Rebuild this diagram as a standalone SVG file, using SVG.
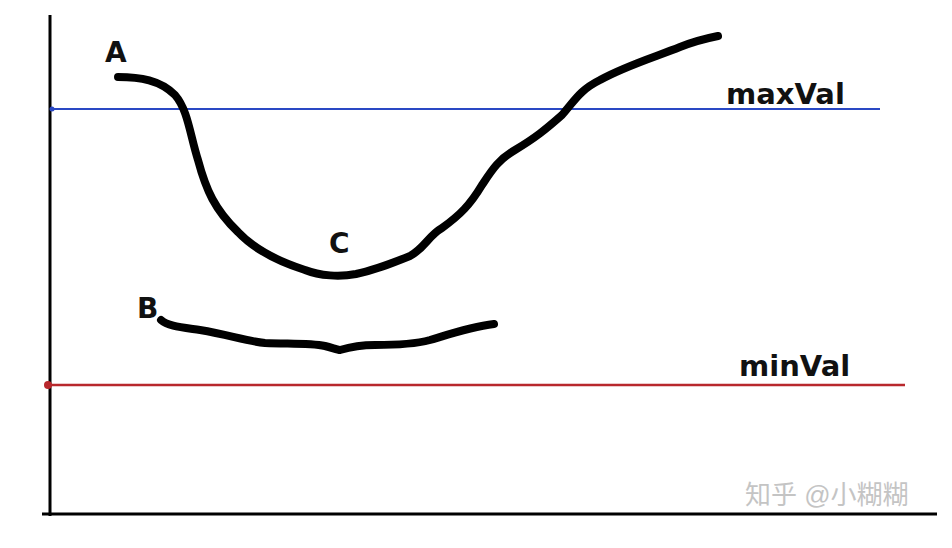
<svg xmlns="http://www.w3.org/2000/svg" width="952" height="548" viewBox="0 0 952 548">
<style>
.curve{fill:none;stroke:#000;stroke-width:8;stroke-linecap:round;stroke-linejoin:round}
.lbl{font-family:"DejaVu Sans","Liberation Sans",sans-serif;fill:#111;font-weight:bold}
.wm{font-family:"Liberation Sans","Noto Sans CJK SC",sans-serif;fill:#c4c4c4;font-size:26px}
</style>
<rect width="952" height="548" fill="#fff"/>
<g id="axes">
<line x1="50" y1="15" x2="50" y2="516" stroke="#000" stroke-width="3"/>
<line x1="42" y1="514" x2="937" y2="514" stroke="#000" stroke-width="3"/>
</g>
<g id="maxVal">
<line x1="50" y1="109" x2="880" y2="109" stroke="#2a48c4" stroke-width="2"/>
<circle cx="52" cy="109" r="2.5" fill="#2a48c4"/>
<text class="lbl" x="726" y="104" font-size="29">maxVal</text>
</g>
<g id="minVal">
<line x1="48" y1="385" x2="905" y2="385" stroke="#b8282c" stroke-width="2.5"/>
<circle cx="48" cy="385" r="4" fill="#b8282c"/>
<text class="lbl" x="739" y="376" font-size="29">minVal</text>
</g>
<g id="curveA">
<path class="curve" d="M118,77 C140,77 160,80 175,95 C188,110 190,135 198,160 C206,190 215,210 238,232 C255,250 280,262 305,270 C320,276 340,277 356,274 C375,270 390,264 410,256 C425,248 428,236 442,228 C460,215 470,205 482,185 C492,170 498,160 515,150 C535,138 545,130 562,115 C575,100 580,90 600,80 C625,66 655,57 680,47 C695,41 708,38 718,36"/>
<text class="lbl" x="105" y="62" font-size="28">A</text>
</g>
<g id="labelC">
<text class="lbl" x="329" y="253" font-size="28">C</text>
</g>
<g id="curveB">
<path class="curve" d="M161,320 C168,326 180,327 200,330 C230,335 245,341 265,343 C290,344 310,343 325,346 C333,348 337,350 340,350 C350,347 358,345 375,345 C395,345 415,344 430,340 C450,334 470,327 494,324"/>
<text class="lbl" x="137" y="318" font-size="28">B</text>
</g>
<text class="wm" x="745" y="504">知乎 @小糊糊</text>
</svg>
